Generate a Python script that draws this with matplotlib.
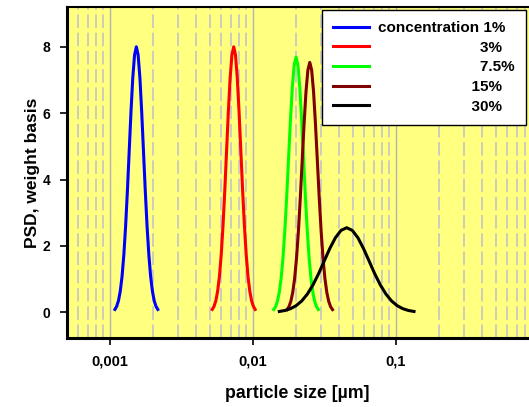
import matplotlib.pyplot as plt

plt.rcParams['font.family'] = ['Liberation Sans', 'DejaVu Sans']
plt.rcParams['font.weight'] = 'bold'

# particle size [um] and PSD values
size_1 = [0.0010864, 0.0011181, 0.0011508, 0.0011844, 0.0012190, 0.0012546, 0.0012912,
          0.0013289, 0.0013677, 0.0014076, 0.0014488, 0.0014911, 0.0015346, 0.0015794,
          0.0016255, 0.0016730, 0.0017219, 0.0017722, 0.0018239, 0.0018772, 0.0019320,
          0.0019884, 0.0020464, 0.0021062, 0.0021677]
psd_1 = [0.089, 0.182, 0.351, 0.637, 1.082, 1.730, 2.598, 3.662, 4.852, 6.038, 7.060,
         7.754, 8.0, 7.754, 7.060, 6.038, 4.852, 3.662, 2.598, 1.730, 1.082, 0.637,
         0.351, 0.182, 0.089]

size_3 = [0.005212, 0.005364, 0.005521, 0.005682, 0.005848, 0.006019, 0.006194,
          0.006375, 0.006561, 0.006753, 0.006950, 0.007153, 0.007362, 0.007577,
          0.007798, 0.008026, 0.008260, 0.008501, 0.008750, 0.009006, 0.009268,
          0.009539, 0.009817, 0.010104, 0.010399]
psd_3 = [0.089, 0.182, 0.351, 0.637, 1.082, 1.730, 2.598, 3.662, 4.852, 6.038, 7.060,
         7.754, 8.0, 7.754, 7.060, 6.038, 4.852, 3.662, 2.598, 1.730, 1.082, 0.637,
         0.351, 0.182, 0.089]

size_75 = [0.014028, 0.014454, 0.014894, 0.015347, 0.015812, 0.016293, 0.016788,
           0.017298, 0.017824, 0.018366, 0.018923, 0.019498, 0.020091, 0.020702,
           0.021330, 0.021978, 0.022646, 0.023334, 0.024044, 0.024775, 0.025527,
           0.026303, 0.027101, 0.027925, 0.028774]
psd_75 = [0.085, 0.175, 0.338, 0.612, 1.040, 1.663, 2.497, 3.520, 4.664, 5.804, 6.786,
          7.453, 7.69, 7.453, 6.786, 5.804, 4.664, 3.520, 2.497, 1.663, 1.040, 0.612,
          0.338, 0.175, 0.085]

size_15 = [0.017378, 0.017916, 0.018471, 0.019043, 0.019633, 0.020241, 0.020869,
           0.021515, 0.022182, 0.022869, 0.023578, 0.024308, 0.025061, 0.025837,
           0.026636, 0.027461, 0.028314, 0.029191, 0.030095, 0.031027, 0.031989,
           0.032980, 0.034001, 0.035054, 0.036141]
psd_15 = [0.084, 0.172, 0.331, 0.599, 1.019, 1.629, 2.445, 3.447, 4.567, 5.684, 6.645,
          7.298, 7.53, 7.298, 6.645, 5.684, 4.567, 3.447, 2.445, 1.629, 1.019, 0.599,
          0.331, 0.172, 0.084]

size_30 = [0.015346, 0.016796, 0.018383, 0.020118, 0.022029, 0.024109, 0.026389,
           0.028884, 0.031623, 0.034594, 0.037889, 0.041462, 0.045394, 0.049685,
           0.054394, 0.059507, 0.065163, 0.071285, 0.078052, 0.085445, 0.093541,
           0.10238, 0.11206, 0.12266, 0.13428]
psd_30 = [0.028, 0.058, 0.112, 0.203, 0.345, 0.552, 0.828, 1.167, 1.547, 1.925,
          2.250, 2.471, 2.55, 2.471, 2.250, 1.925, 1.547, 1.167, 0.828, 0.552,
          0.345, 0.203, 0.112, 0.058, 0.028]

labels = ['concentration 1%', ' ' * 24 + '3%', ' ' * 24 + '7.5%',
          ' ' * 22 + '15%', ' ' * 22 + '30%']
colors = ['#0000ff', '#ff0000', '#00ff00', '#800000', '#000000']
xticks = [0.001, 0.01, 0.1]
xticklabels = ['0,001', '0,01', '0,1']

fig = plt.figure(figsize=(5.29, 4.07), dpi=100)
ax = fig.add_axes([0.1261, 0.1688, 0.8922, 0.8133])
ax.set_facecolor('#ffff80')

series = [(size_1, psd_1), (size_3, psd_3), (size_75, psd_75),
          (size_15, psd_15), (size_30, psd_30)]
for (xs, ys), c, lab in zip(series, colors, labels):
    ax.plot(xs, ys, color=c, lw=2.2, label=lab)

ax.set_xscale('log')
ax.set_xlim(0.0005, 1)
ax.set_ylim(-0.78, 9.19)
ax.set_xticks(xticks)
ax.set_xticklabels(xticklabels)
ax.set_yticks([0, 2, 4, 6, 8])

# solid lines at decades, dashed at the minor ticks
ax.grid(which='major', axis='x', color='#b4b4b4', lw=1.0, ls='-')
ax.grid(which='minor', axis='x', color='#c8c8c0', lw=1.3, ls=(0, (7.5, 2.6)))
ax.set_axisbelow(True)

ax.tick_params(which='major', direction='out', length=5, width=1.2, labelsize=10, pad=7)
ax.tick_params(which='minor', length=0)
ax.tick_params(axis='x', pad=6.5, labelsize=10.5)

for s in ['left', 'bottom']:
    ax.spines[s].set_linewidth(2.2)
ax.spines['top'].set_linewidth(1.5)
ax.spines['right'].set_visible(False)

ax.set_xlabel('particle size [µm]', fontsize=12.8, fontweight='bold')
ax.set_ylabel('PSD, weight basis', fontsize=12.5, fontweight='bold')
ax.xaxis.set_label_coords((297 - 66.7) / 472, -0.14)
ax.yaxis.set_label_coords(-0.0566, 0.5)

leg = ax.legend(loc='upper right', bbox_to_anchor=(526 / 529, 1 - 10 / 407),
                bbox_transform=fig.transFigure, borderaxespad=0,
                prop={'size': 11, 'weight': 'bold'}, handlelength=2.3,
                handletextpad=0.63, borderpad=0.73, labelspacing=0.37,
                fancybox=False, framealpha=1, edgecolor='black')
leg.get_frame().set_linewidth(1.0)

fig.savefig('out.png', dpi=100)
